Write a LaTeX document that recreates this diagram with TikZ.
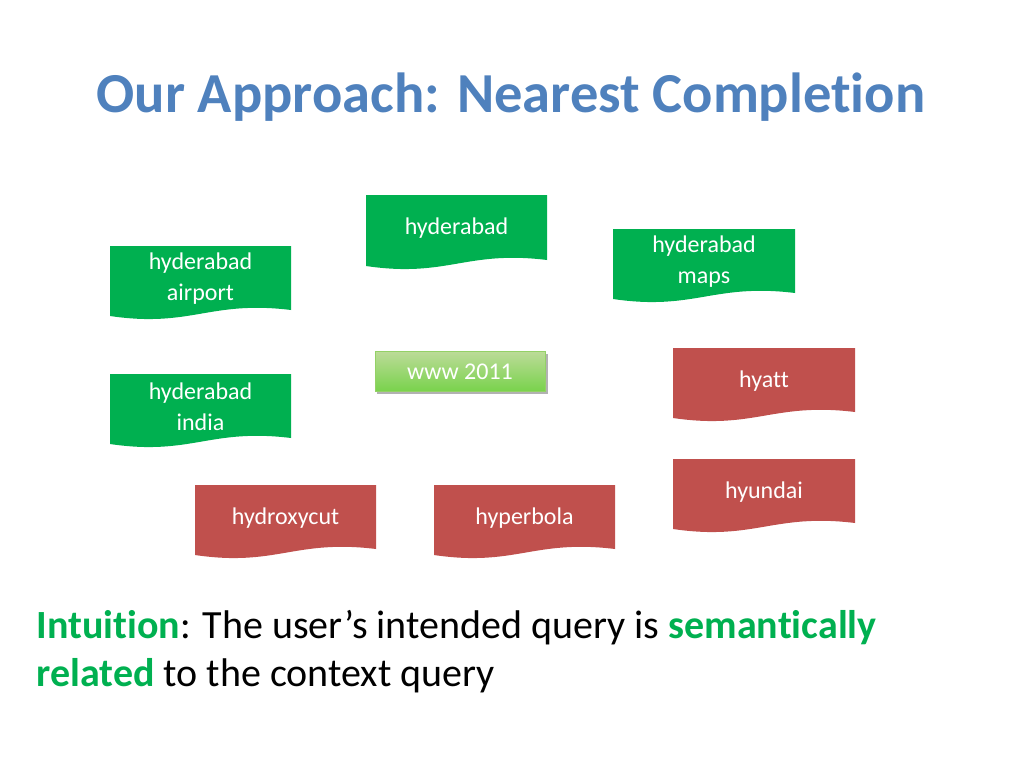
\documentclass[tikz,border=0pt]{standalone}
\usepackage{fontspec}
\setmainfont[Ligatures={NoCommon,NoContextual}]{Carlito}
\definecolor{tgreen}{HTML}{00B050}
\definecolor{tred}{HTML}{C0504D}
\definecolor{ttitle}{HTML}{4F81BD}
\newcommand{\docbox}[5]{%
  \fill[#5] (#1,#2) -- (#3,#2) -- (#3,#4) .. controls ({#1+0.55*(#3-#1)},{#4-10}) and ({#1+0.45*(#3-#1)},{#4+18}) .. (#1,{#4+6}) -- cycle;
}
\begin{document}
\begin{tikzpicture}[x=1pt,y=-1pt,
  lbl/.style={text=white,font=\fontsize{24}{31}\selectfont,align=center}]
\useasboundingbox (0,0) rectangle (1024,768);
\node[text=ttitle,font=\fontsize{56.5}{60}\selectfont\bfseries] (title) at (511,97) {Our Approach: Nearest Completion};
\docbox{366}{195}{547}{260}{tgreen}
\node[lbl] (h) at (456.5,228) {hyderabad};
\docbox{110}{246}{291}{310}{tgreen}
\node[lbl] (ha) at (200.5,279) {hyderabad\\airport};
\docbox{613}{229}{795}{293}{tgreen}
\node[lbl] (hm) at (704,262) {hyderabad\\maps};
\docbox{110}{374}{291}{438}{tgreen}
\node[lbl] (hi) at (200.5,407) {hyderabad\\india};
\docbox{673}{348}{855}{412}{tred}
\node[lbl] (hy) at (764,381) {hyatt};
\docbox{673}{459}{855}{523}{tred}
\node[lbl] (hu) at (764,492) {hyundai};
\docbox{195}{485}{376}{549}{tred}
\node[lbl] (hx) at (285.5,518) {hydroxycut};
\docbox{434}{485}{615}{549}{tred}
\node[lbl] (hp) at (524.5,518) {hyperbola};
\fill[black!30] (377,354) rectangle (548,394);
\shade[top color=green!30!olive!40!white, bottom color=green!50!olive!70!white] (375,351) rectangle (545,391);
\draw[green!40!olive!60!white] (375,351) rectangle (545,391);
\node[lbl] (w) at (460,372) {www 2011};
\node[anchor=west,font=\fontsize{40}{48}\selectfont,align=left] (intu) at (33,652) {\textcolor{tgreen}{\bfseries Intuition}: The user’s intended query is \textcolor{tgreen}{\bfseries semantically}\\\textcolor{tgreen}{\bfseries related} to the context query};
\end{tikzpicture}
\end{document}
